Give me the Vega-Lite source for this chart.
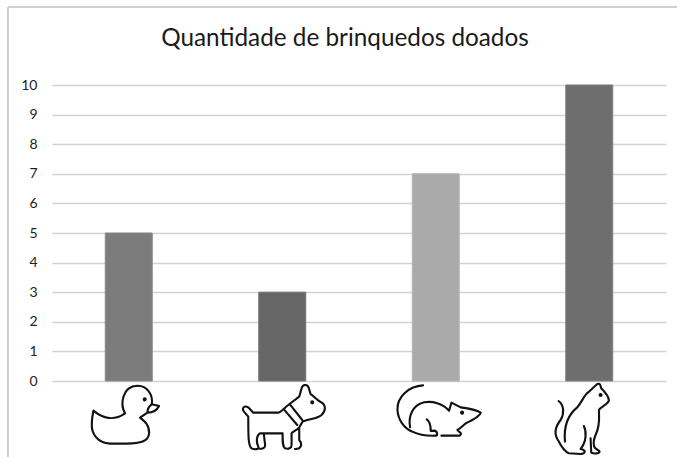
{
"$schema":"https://vega.github.io/schema/vega-lite/v6.json",
"width":614,"height":296,
"autosize":{"type":"none"},
"padding":{"left":52,"top":85,"right":11,"bottom":76},
"background":"white",
"config":{"view":{"stroke":null},"axisY":{"title":null,"values":[0,1,2,3,4,5,6,7,8,9,10],"labelOverlap":false,"domain":false,"ticks":false,"grid":true,"gridColor":"#d2d2d2","gridWidth":1.5,"labelFont":"Lato","labelFontSize":14,"labelColor":"#222222","labelPadding":15}},
"title":{"text":"Quantidade de brinquedos doados","font":"Lato","fontSize":24.3,"fontWeight":"normal","color":"#1a1a1a","anchor":"middle","dx":-14,"offset":-45},
"data":{"values":[
{"brinquedo":"Pato","quantidade":5},
{"brinquedo":"Cachorro","quantidade":3},
{"brinquedo":"Rato","quantidade":7},
{"brinquedo":"Gato","quantidade":10}
]},
"resolve":{"scale":{"x":"independent"}},
"layer":[
{"mark":{"type":"bar","width":47,"strokeWidth":1},
 "encoding":{
  "x":{"field":"brinquedo","type":"nominal","sort":null,"axis":null,"scale":{"paddingInner":0,"paddingOuter":0}},
  "y":{"field":"quantidade","type":"quantitative","title":null,"scale":{"domain":[0,10]},"axis":{"values":[0,1,2,3,4,5,6,7,8,9,10]}},
  "fill":{"field":"brinquedo","type":"nominal","sort":null,"legend":null,"scale":{"domain":["Pato","Cachorro","Rato","Gato"],"range":["#7c7c7c","#666666","#aaaaaa","#6e6e6e"]}},
  "stroke":{"field":"brinquedo","type":"nominal","sort":null,"legend":null,"scale":{"domain":["Pato","Cachorro","Rato","Gato"],"range":["#8a8a8a","#757575","#b5b5b5","#808080"]}}
 }},
{"mark":{"type":"point","filled":false,"opacity":1,"stroke":"#111111","strokeWidth":2.1,"size":0.444,"strokeJoin":"round","strokeCap":"round"},
 "encoding":{
  "x":{"field":"brinquedo","type":"nominal","sort":null,"axis":null,"scale":{"paddingInner":0,"paddingOuter":0}},
  "y":{"datum":-1.115,"type":"quantitative","title":null,"axis":{"values":[0,1,2,3,4,5,6,7,8,9,10]}},
  "shape":{"field":"brinquedo","type":"nominal","sort":null,"legend":null,"scale":{"domain":["Pato","Cachorro","Rato","Gato"],"range":[
"M-106,-10 C-85,8 -50,25 -11,-2 C-26,-27 -21,-84 26,-85 C56,-85 74,-57 69,-29 L91,-24 C84,-10 69,-4 56,-4 C56,-14 62,-24 69,-29 M56,-4 L34,11 C49,23 62,33 61,58 C59,83 34,88 -6,89 L-56,89 C-96,86 -111,58 -111,33 C-111,13 -109,3 -106,-10 M45,-44 C45,-48 51,-48 51,-44 C51,-40 45,-40 45,-44 Z",
"M-87,-4 L-12,-4 C-2,-7 8,-20 18,-27 L51,-52 L58,-77 C61,-90 75,-90 79,-80 L85,-60 C95,-54 103,-42 115,-36 C130,-30 133,-12 118,3 C103,16 83,13 61,23 L51,40 C45,48 31,53 28,58 L28,93 C28,103 18,106 8,103 C1,98 1,83 1,58 L-67,58 C-77,63 -79,83 -72,98 C-69,106 -82,108 -92,103 C-102,96 -102,68 -102,8 L-115,-7 C-122,-17 -115,-27 -102,-20 L-87,-4 Z M-55,63 L-52,88 C-49,100 -57,106 -69,104 M51,40 L51,78 C61,90 58,106 38,105 M23,-29 L60,18 M5,-14 L45,33 M87,-35 C87,-39 93,-39 93,-35 C93,-31 87,-31 87,-35 Z",
"M-38,-86 C-80,-84 -117,-52 -115,-12 C-113,18 -95,43 -70,53 C-50,63 -25,66 0,65 C7,65 5,51 -5,50 L-15,51 C-15,38 -17,23 -27,16 M-77,40 C-83,8 -70,-27 -35,-35 C-10,-40 20,-32 40,-10 L47,-34 L75,-20 C100,-17 120,-14 135,-4 C133,6 115,16 90,28 C80,36 75,43 65,48 L70,53 C80,58 75,66 65,65 L17,65 M76,-4 C76,-8 82,-8 82,-4 C82,0 76,0 76,-4 Z",
"M-92,-39 C-76,-27 -74,-2 -86,18 C-106,43 -106,63 -91,83 C-81,103 -71,113 -61,118 L-26,120 M-73,83 C-76,48 -71,8 -36,-20 C-21,-37 -16,-57 -1,-67 L24,-90 C34,-94 34,-82 36,-77 C46,-67 59,-52 59,-40 C54,-27 34,-22 29,-12 C29,8 34,33 19,63 C14,75 12,85 14,93 C14,108 29,106 31,113 C29,120 14,120 6,116 L4,73 M-16,36 C-8,53 -8,83 -26,105 C-11,108 -8,118 -26,120 M31,-57 C31,-61 37,-61 37,-57 C37,-53 31,-53 31,-57 Z"
]}}
 }},
{"data":{"values":[{"moldura":"topo"}]},
 "mark":{"type":"rule","color":"#d0d0d0","strokeWidth":2},
 "encoding":{
  "x":{"datum":-0.287,"type":"quantitative","scale":{"domain":[0,4]},"axis":null},
  "x2":{"datum":4.08},
  "y":{"datum":12.635,"type":"quantitative","title":null,"axis":{"values":[0,1,2,3,4,5,6,7,8,9,10]}}
 }},
{"data":{"values":[{"moldura":"esquerda"}]},
 "mark":{"type":"rule","color":"#d0d0d0","strokeWidth":2},
 "encoding":{
  "x":{"datum":-0.287,"type":"quantitative","scale":{"domain":[0,4]},"axis":null},
  "y":{"datum":12.635,"type":"quantitative","title":null,"axis":{"values":[0,1,2,3,4,5,6,7,8,9,10]}},
  "y2":{"datum":-2.6}
 }}
]
}
